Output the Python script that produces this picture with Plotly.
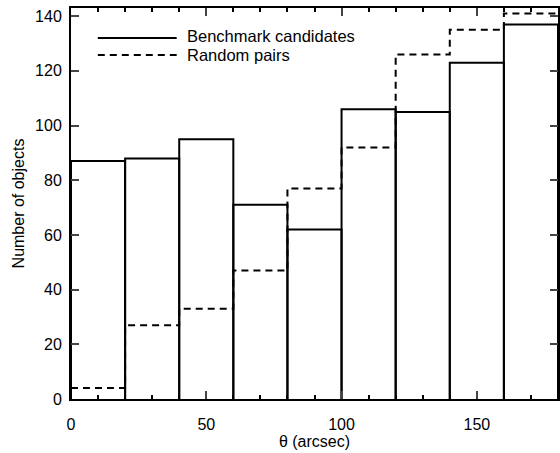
import plotly.graph_objects as go

bin_edges = [0, 20, 40, 60, 80, 100, 120, 140, 160, 180]
benchmark = [87, 88, 95, 71, 62, 106, 105, 123, 137]
random_pairs = [4, 27, 33, 47, 77, 92, 126, 135, 141]
x_ticks = [0, 50, 100, 150]
y_ticks = [0, 20, 40, 60, 80, 100, 120, 140]

FONT = "Liberation Sans, Arial, Helvetica, sans-serif"

# solid: full outlined bars
bx, by = [], []
for i, v in enumerate(benchmark):
    x0, x1 = bin_edges[i], bin_edges[i + 1]
    bx += [x0, x0, x1, x1, None]
    by += [0, v, v, 0, None]

# dashed: step outline
rx = bin_edges[:]
ry = random_pairs + [random_pairs[-1]]

fig = go.Figure()
fig.add_trace(go.Scatter(x=rx, y=ry, mode="lines", line=dict(color="black", width=2, dash="7px,5px", shape="hv"),
                         showlegend=False, hoverinfo="skip", cliponaxis=False))
fig.add_trace(go.Scatter(x=bx, y=by, mode="lines", line=dict(color="black", width=2),
                         showlegend=False, hoverinfo="skip"))

# legend
fig.add_shape(type="line", xref="paper", yref="paper", x0=0.055, x1=0.217, y0=0.923, y1=0.923,
              line=dict(color="black", width=2))
fig.add_shape(type="line", xref="paper", yref="paper", x0=0.055, x1=0.217, y0=0.880, y1=0.880,
              line=dict(color="black", width=2, dash="7px,5px"))
fig.add_annotation(xref="paper", yref="paper", x=0.236, y=0.928, text="Benchmark candidates",
                   showarrow=False, xanchor="left", yanchor="middle", borderpad=0,
                   font=dict(size=16.5, color="black", family=FONT))
fig.add_annotation(xref="paper", yref="paper", x=0.236, y=0.880, text="Random pairs",
                   showarrow=False, xanchor="left", yanchor="middle", borderpad=0,
                   font=dict(size=16.5, color="black", family=FONT))

fig.update_layout(
    width=560, height=453,
    margin=dict(l=71, r=0, t=8, b=54),
    plot_bgcolor="white", paper_bgcolor="white",
    font=dict(family=FONT, size=16, color="black"),
    xaxis=dict(range=[0, 180], tickvals=x_ticks, ticks="inside", ticklen=8, tickwidth=2,
               showline=True, linewidth=2, linecolor="black", mirror="ticks", showgrid=False, zeroline=False,
               minor=dict(dtick=10, ticks="inside", ticklen=4, tickwidth=2, tickcolor="black"),
               ticklabelstandoff=10,
               title=dict(text="θ (arcsec)", font=dict(size=16), standoff=2)),
    yaxis=dict(range=[0, 143], tickvals=y_ticks, ticks="inside", ticklen=8, tickwidth=2,
               showline=True, linewidth=2, linecolor="black", mirror="ticks", showgrid=False, zeroline=False,
               ticklabelstandoff=4,
               title=dict(text="Number of objects", font=dict(size=16), standoff=6)),
)

fig.write_html("out.html")
